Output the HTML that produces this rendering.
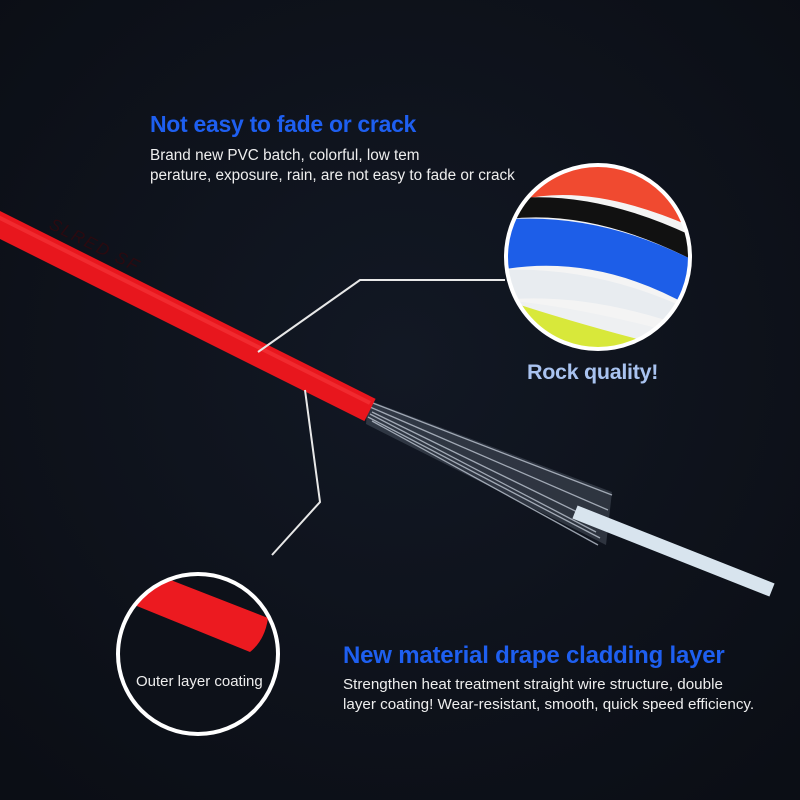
<!DOCTYPE html>
<html><head><style>
html,body{margin:0;padding:0;background:#0e121b;}
svg{display:block}
</style></head><body>
<svg width="800" height="800" viewBox="0 0 800 800" xmlns="http://www.w3.org/2000/svg">
<defs>
<radialGradient id="bg" cx="0.5" cy="0.45" r="0.7"><stop offset="0" stop-color="#121824"/><stop offset="1" stop-color="#0b0e15"/></radialGradient>
<clipPath id="c1"><circle cx="598" cy="257" r="92"/></clipPath>
<clipPath id="c2"><circle cx="198" cy="654" r="80"/></clipPath>
</defs>
<rect width="800" height="800" fill="url(#bg)"/>
<!-- fibers wedge -->
<path d="M368 400 L612 492 L606 545 L366 424 Z" fill="#8a96a8" opacity="0.25"/>
<g stroke="#c8d0dc" stroke-width="1.3" opacity="0.75">
<line x1="370" y1="402" x2="612" y2="495"/>
<line x1="370" y1="407" x2="608" y2="510"/>
<line x1="372" y1="412" x2="604" y2="525"/>
<line x1="368" y1="417" x2="600" y2="538"/>
<line x1="372" y1="421" x2="598" y2="545"/>
<line x1="370" y1="414" x2="596" y2="532"/>
</g>
<!-- inner tube -->
<line x1="575" y1="512" x2="772" y2="590" stroke="#d8e4ee" stroke-width="14"/>
<!-- red cable -->
<line x1="-10" y1="220" x2="370" y2="410" stroke="#e8161d" stroke-width="25"/>
<line x1="-10" y1="213" x2="370" y2="403" stroke="#ff4a4a" stroke-width="4" opacity="0.4"/>
<text x="0" y="0" transform="translate(48,228) rotate(26.6)" font-family="Liberation Sans,sans-serif" font-size="17" fill="#2a0a10" font-style="italic" letter-spacing="2">SLRED SF</text>
<!-- callout lines -->
<polyline points="258,352 360,280 505,280" fill="none" stroke="#e8e8e8" stroke-width="2"/>
<polyline points="305,390 320,502 272,555" fill="none" stroke="#e8e8e8" stroke-width="2"/>
<!-- circle 1 -->
<g clip-path="url(#c1)">
<rect x="500" y="160" width="200" height="200" fill="#f4f4f4"/>
<path d="M480 150 L720 150 L720 240 Q600 180 520 200 Z" fill="#f04a30"/>
<path d="M500 200 Q600 185 720 250 L720 275 Q600 205 500 220 Z" fill="#111"/>
<path d="M500 220 Q610 210 720 275 L720 325 Q610 250 500 270 Z" fill="#1d5ee8"/>
<path d="M500 270 Q610 265 720 325 L720 340 Q600 290 500 300 Z" fill="#e8ecf0"/>
<path d="M500 300 Q580 305 720 345 L720 370 L500 370 Z" fill="#eef0f2"/>
<path d="M505 300 Q580 325 680 350 L680 370 L505 370 Z" fill="#d8e83a"/>
</g>
<circle cx="598" cy="257" r="92" fill="none" stroke="#fff" stroke-width="4"/>
<!-- circle 2 -->
<circle cx="198" cy="654" r="80" fill="#0d1119"/>
<g clip-path="url(#c2)">
<path d="M145 570 L268 618 Q265 640 250 652 L122 600 Z" fill="#ec1a20"/>
</g>
<circle cx="198" cy="654" r="80" fill="none" stroke="#fff" stroke-width="4"/>
<text x="136" y="686" font-family="Liberation Sans,sans-serif" font-size="15" fill="#eee">Outer layer coating</text>
<!-- texts -->
<text x="150" y="132" font-family="Liberation Sans,sans-serif" font-size="23" font-weight="bold" fill="#1e5ff0" letter-spacing="-0.3">Not easy to fade or crack</text>
<text x="150" y="160" font-family="Liberation Sans,sans-serif" font-size="15.3" fill="#eee">Brand new PVC batch, colorful, low tem</text>
<text x="150" y="180" font-family="Liberation Sans,sans-serif" font-size="15.3" fill="#eee">perature, exposure, rain, are not easy to fade or crack</text>
<text x="527" y="379" font-family="Liberation Sans,sans-serif" font-size="21.5" font-weight="bold" fill="#a9c3f0" letter-spacing="-0.3">Rock quality!</text>
<text x="343" y="663" font-family="Liberation Sans,sans-serif" font-size="24" font-weight="bold" fill="#1e5ff0" letter-spacing="-0.2">New material drape cladding layer</text>
<text x="343" y="689" font-family="Liberation Sans,sans-serif" font-size="15.2" fill="#eee">Strengthen heat treatment straight wire structure, double</text>
<text x="343" y="709" font-family="Liberation Sans,sans-serif" font-size="15.2" fill="#eee">layer coating! Wear-resistant, smooth, quick speed efficiency.</text>
</svg>
</body></html>
